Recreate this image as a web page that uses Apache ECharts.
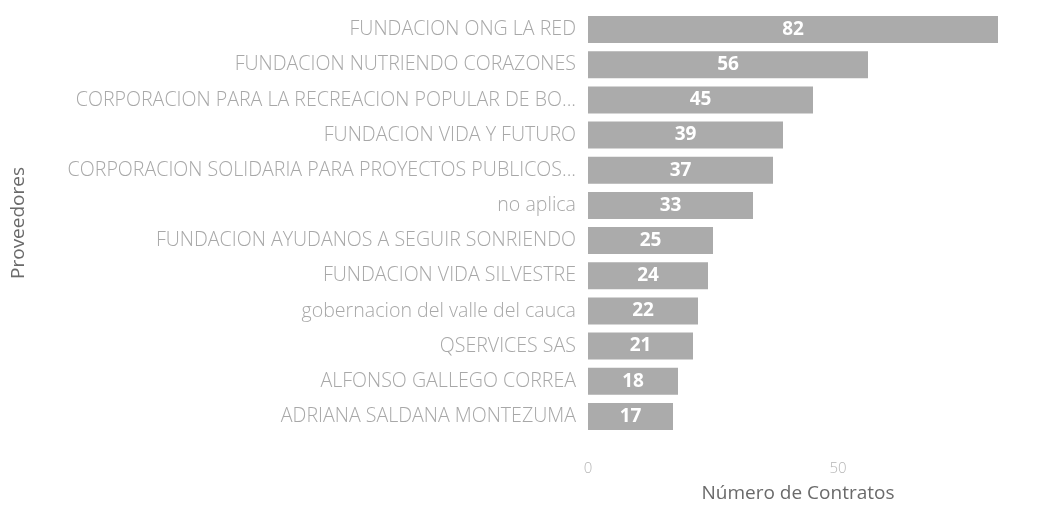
<!DOCTYPE html>
<html>
<head>
<meta charset="utf-8">
<script src="https://cdn.jsdelivr.net/npm/echarts@6/dist/echarts.min.js"></script>
<style>
  html, body { margin: 0; padding: 0; background: #fff; }
  #chart { width: 1059px; height: 508px; }
</style>
</head>
<body>
<div id="chart"></div>
<script>
// Proveedores con mas contratos
var proveedores = [
  "FUNDACION ONG LA RED",
  "FUNDACION NUTRIENDO CORAZONES",
  "CORPORACION PARA LA RECREACION POPULAR DE BO...",
  "FUNDACION VIDA Y FUTURO",
  "CORPORACION SOLIDARIA PARA PROYECTOS PUBLICOS...",
  "no aplica",
  "FUNDACION AYUDANOS A SEGUIR SONRIENDO",
  "FUNDACION VIDA SILVESTRE",
  "gobernacion del valle del cauca",
  "QSERVICES SAS",
  "ALFONSO GALLEGO CORREA",
  "ADRIANA SALDANA MONTEZUMA"
];
var contratos = [82, 56, 45, 39, 37, 33, 25, 24, 22, 21, 18, 17];

var myChart = echarts.init(document.getElementById("chart"));

var option = {
  animation: false,
  grid: {
    left: 588,
    right: 51,
    top: 12,
    bottom: 66
  },
  xAxis: {
    type: "value",
    min: 0,
    max: 84,
    interval: 50,
    name: "Número de Contratos",
    nameLocation: "middle",
    nameGap: 50,
    nameTextStyle: { color: "#6a6a6a", fontSize: 19, fontFamily: "Open Sans" },
    axisLine: { show: false },
    axisTick: { show: false },
    splitLine: { show: false },
    axisLabel: {
      color: "#b5b5b5",
      fontSize: 15,
      fontFamily: "Open Sans",
      fontWeight: 300,
      margin: 27,
      showMaxLabel: false
    }
  },
  yAxis: {
    type: "category",
    inverse: true,
    data: proveedores,
    name: "Proveedores",
    nameLocation: "middle",
    nameGap: 560,
    nameTextStyle: { color: "#6a6a6a", fontSize: 19, fontFamily: "Open Sans" },
    axisLine: { show: false },
    axisTick: { show: false },
    axisLabel: {
      color: "#a8a8a8",
      fontSize: 19.6,
      fontFamily: "Open Sans",
      fontWeight: 300,
      margin: 12
    }
  },
  series: [
    {
      type: "bar",
      data: contratos,
      barWidth: 27,
      itemStyle: { color: "#ababab" },
      label: {
        show: true,
        position: "inside",
        color: "#ffffff",
        fontSize: 19,
        fontWeight: "bold",
        fontFamily: "Open Sans"
      }
    }
  ]
};

myChart.setOption(option);
</script>
</body>
</html>
